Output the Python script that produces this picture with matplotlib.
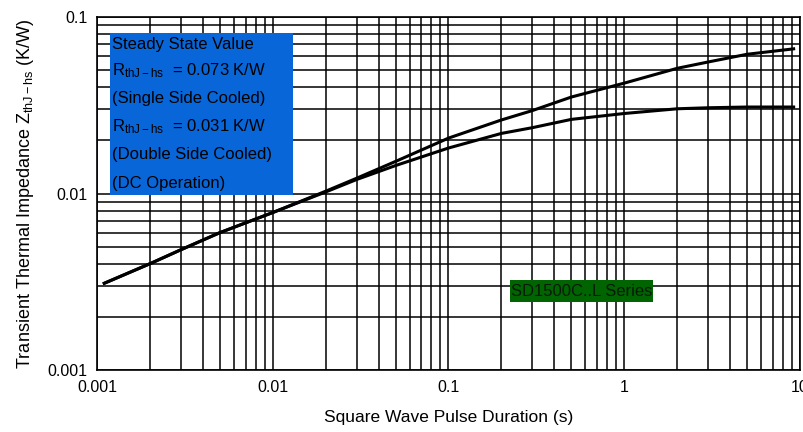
import matplotlib
matplotlib.use("Agg")
import matplotlib.pyplot as plt
from matplotlib.patches import Rectangle
from matplotlib.ticker import FixedLocator, FixedFormatter, LogLocator, NullFormatter

plt.rcParams['font.family'] = ['Liberation Sans', 'DejaVu Sans']
plt.rcParams['mathtext.fontset'] = 'custom'
plt.rcParams['mathtext.rm'] = 'Liberation Sans'
plt.rcParams['mathtext.it'] = 'Liberation Sans'

# pulse duration (s)
t_single = [0.0011, 0.002, 0.003, 0.005, 0.01, 0.02, 0.03, 0.05, 0.1, 0.2,
            0.3, 0.5, 1, 2, 3, 5, 9.2]
# single side cooled Zth (K/W)
z_single = [0.0031, 0.0040, 0.0048, 0.0060, 0.0078, 0.0103, 0.0122, 0.0152,
            0.0206, 0.0261, 0.0295, 0.0352, 0.0422, 0.0512, 0.0556, 0.0615, 0.066]

t_double = [0.0011, 0.002, 0.003, 0.005, 0.01, 0.02, 0.03, 0.05, 0.1, 0.2,
            0.3, 0.5, 1, 2, 3, 5, 9.2]
# double side cooled Zth (K/W)
z_double = [0.0031, 0.0040, 0.0048, 0.0060, 0.0078, 0.0102, 0.0120, 0.0144,
            0.0181, 0.0219, 0.0236, 0.0263, 0.0284, 0.0302, 0.0306, 0.0309, 0.0309]

x_ticks = [0.001, 0.01, 0.1, 1, 10]
x_labels = ["0.001", "0.01", "0.1", "1", "10"]
y_ticks = [0.001, 0.01, 0.1]
y_labels = ["0.001", "0.01", "0.1"]

box_lines = ["Steady State Value",
             r"R$_{\rm thJ-hs}$  = 0.073 K/W",
             "(Single Side Cooled)",
             r"R$_{\rm thJ-hs}$  = 0.031 K/W",
             "(Double Side Cooled)",
             "(DC Operation)"]

W, H = 804, 432
fig = plt.figure(figsize=(W / 100, H / 100), dpi=100)
ax = fig.add_axes([97 / W, 62 / H, 703 / W, 353 / H])

ax.set_xscale('log')
ax.set_yscale('log')
ax.set_xlim(0.001, 10)
ax.set_ylim(0.001, 0.1)

ax.plot(t_single, z_single, color='black', lw=2.2, zorder=3)
ax.plot(t_double, z_double, color='black', lw=2.2, zorder=3)

ax.xaxis.set_major_locator(FixedLocator(x_ticks))
ax.xaxis.set_major_formatter(FixedFormatter(x_labels))
ax.yaxis.set_major_locator(FixedLocator(y_ticks))
ax.yaxis.set_major_formatter(FixedFormatter(y_labels))
for a in (ax.xaxis, ax.yaxis):
    a.set_minor_locator(LogLocator(base=10, subs=range(2, 10)))
    a.set_minor_formatter(NullFormatter())
ax.grid(True, which='both', color='black', lw=1.1)
ax.tick_params(which='both', length=0, labelsize=11.5, pad=7)
for s in ax.spines.values():
    s.set_linewidth(1.2)

ax.set_xlabel("Square Wave Pulse Duration (s)", fontsize=12.5, labelpad=11)
ax.set_ylabel(r"Transient Thermal Impedance Z$_{\rm thJ-hs}$ (K/W)", fontsize=13, labelpad=8)

# steady state box
fig.patches.append(Rectangle((110 / W, 1 - 195 / H), 183 / W, 162 / H,
                             transform=fig.transFigure, facecolor='#0866d8',
                             edgecolor='none', zorder=2))
ys = [44, 71, 99, 127, 155, 183]
for txt, y in zip(box_lines, ys):
    fig.text(112 / W, 1 - y / H, txt, fontsize=12, va='center', ha='left', zorder=3)

# series label
fig.patches.append(Rectangle((510 / W, 1 - 302 / H), 143 / W, 22 / H,
                             transform=fig.transFigure, facecolor='#006400',
                             edgecolor='none', zorder=2))
fig.text(511 / W, 1 - 291 / H, "SD1500C..L Series", fontsize=12, va='center',
         ha='left', color='#0a1a0a', zorder=3)

fig.savefig("out.png", dpi=100)
